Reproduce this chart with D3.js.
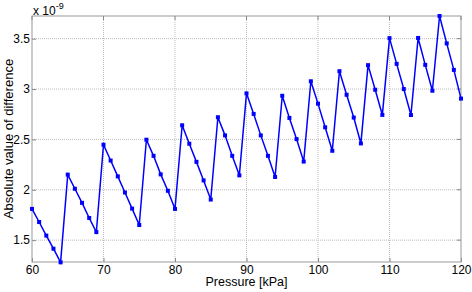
<!DOCTYPE html>
<html>
<head>
<meta charset="utf-8">
<script src="https://cdn.jsdelivr.net/npm/d3@7"></script>
<style>
  body { margin: 0; background: #fff; }
  text { font-family: "Liberation Sans", Arial, sans-serif; }
</style>
</head>
<body>
<div id="chart"></div>
<script>
// pressure values (kPa), one per integer step
var pressure = d3.range(60, 121);

// absolute value of difference, in units of 1e-9
var diff = [
  1.81, 1.68, 1.545, 1.415, 1.28,
  2.15, 2.01, 1.87, 1.72, 1.58,
  2.447, 2.29, 2.133, 1.973, 1.813, 1.65,
  2.497, 2.337, 2.153, 1.99, 1.81,
  2.64, 2.457, 2.277, 2.093, 1.903,
  2.72, 2.54, 2.337, 2.143,
  2.957, 2.753, 2.54, 2.337, 2.127,
  2.933, 2.713, 2.503, 2.28,
  3.077, 2.855, 2.62, 2.387,
  3.177, 2.943, 2.717, 2.46,
  3.237, 2.993, 2.743,
  3.505, 3.25, 3.0, 2.742,
  3.507, 3.24, 2.983,
  3.725, 3.453, 3.19, 2.905
];

var xTicks = [60, 70, 80, 90, 100, 110, 120];
var yTicks = [1.5, 2, 2.5, 3, 3.5];

var width = 472;
var height = 292;
var margin = {top: 16, right: 11, bottom: 30, left: 32};

var svg = d3.select("#chart").append("svg")
    .attr("width", width)
    .attr("height", height);

var x = d3.scaleLinear()
    .domain([60, 120])
    .range([margin.left, width - margin.right]);

var y = d3.scaleLinear()
    .domain(d3.extent(diff))
    .range([height - margin.bottom + 0.3, margin.top]);

var data = pressure.map(function(p, i) { return {x: p, y: diff[i]}; });

// grid lines
var grid = svg.append("g");
grid.selectAll(".gx").data(xTicks.slice(1, -1)).enter().append("line")
    .attr("x1", d => x(d)).attr("x2", d => x(d))
    .attr("y1", margin.top).attr("y2", height - margin.bottom)
    .attr("stroke", "#bdbdbd").attr("stroke-width", 1)
    .attr("stroke-dasharray", "1,1");
grid.selectAll(".gy").data(yTicks).enter().append("line")
    .attr("x1", margin.left).attr("x2", width - margin.right)
    .attr("y1", d => y(d)).attr("y2", d => y(d))
    .attr("stroke", "#bdbdbd").attr("stroke-width", 1)
    .attr("stroke-dasharray", "1,1");

// axes (ticks inward, like matlab)
var xAxis = svg.append("g")
    .attr("transform", "translate(0," + (height - margin.bottom) + ")")
    .call(d3.axisBottom(x).tickValues(xTicks).tickSize(-4).tickPadding(3).tickFormat(d3.format("d")));
var yAxis = svg.append("g")
    .attr("transform", "translate(" + margin.left + ",0)")
    .call(d3.axisLeft(y).tickValues(yTicks).tickSize(-4).tickPadding(2).tickFormat(d => d));

[xAxis, yAxis].forEach(function(a) {
  a.select(".domain").remove();
  a.selectAll("line").attr("stroke", "#888");
  a.selectAll("text").attr("font-size", 12).attr("fill", "#000");
});

// frame
svg.append("rect")
    .attr("x", margin.left).attr("y", margin.top)
    .attr("width", width - margin.right - margin.left)
    .attr("height", height - margin.bottom - margin.top)
    .attr("fill", "none").attr("stroke", "#999").attr("stroke-width", 1);

// right/top ticks
svg.append("g").selectAll("line").data(yTicks).enter().append("line")
    .attr("x1", width - margin.right).attr("x2", width - margin.right - 4)
    .attr("y1", d => y(d)).attr("y2", d => y(d)).attr("stroke", "#888");
svg.append("g").selectAll("line").data(xTicks).enter().append("line")
    .attr("x1", d => x(d)).attr("x2", d => x(d))
    .attr("y1", margin.top).attr("y2", margin.top + 4).attr("stroke", "#888");

// series
var line = d3.line().x(d => x(d.x)).y(d => y(d.y));
svg.append("path")
    .datum(data)
    .attr("fill", "none")
    .attr("stroke", "#0000ff")
    .attr("stroke-width", 1.5)
    .attr("d", line);

svg.append("g").selectAll("rect").data(data).enter().append("rect")
    .attr("x", d => x(d.x) - 2).attr("y", d => y(d.y) - 2)
    .attr("width", 4).attr("height", 4)
    .attr("fill", "#0000ff");

// labels
svg.append("text")
    .attr("x", (margin.left + width - margin.right) / 2)
    .attr("y", 286)
    .attr("text-anchor", "middle")
    .attr("font-size", 12.5)
    .text("Pressure [kPa]");

svg.append("text")
    .attr("transform", "translate(12.5," + ((margin.top + height - margin.bottom) / 2) + ") rotate(-90)")
    .attr("text-anchor", "middle")
    .attr("font-size", 13)
    .text("Absolute value of difference");

var mult = svg.append("text")
    .attr("x", 33)
    .attr("y", 15)
    .attr("font-size", 12)
    .text("x 10");
mult.append("tspan")
    .attr("dy", -6)
    .attr("font-size", 9)
    .text("-9");
</script>
</body>
</html>
